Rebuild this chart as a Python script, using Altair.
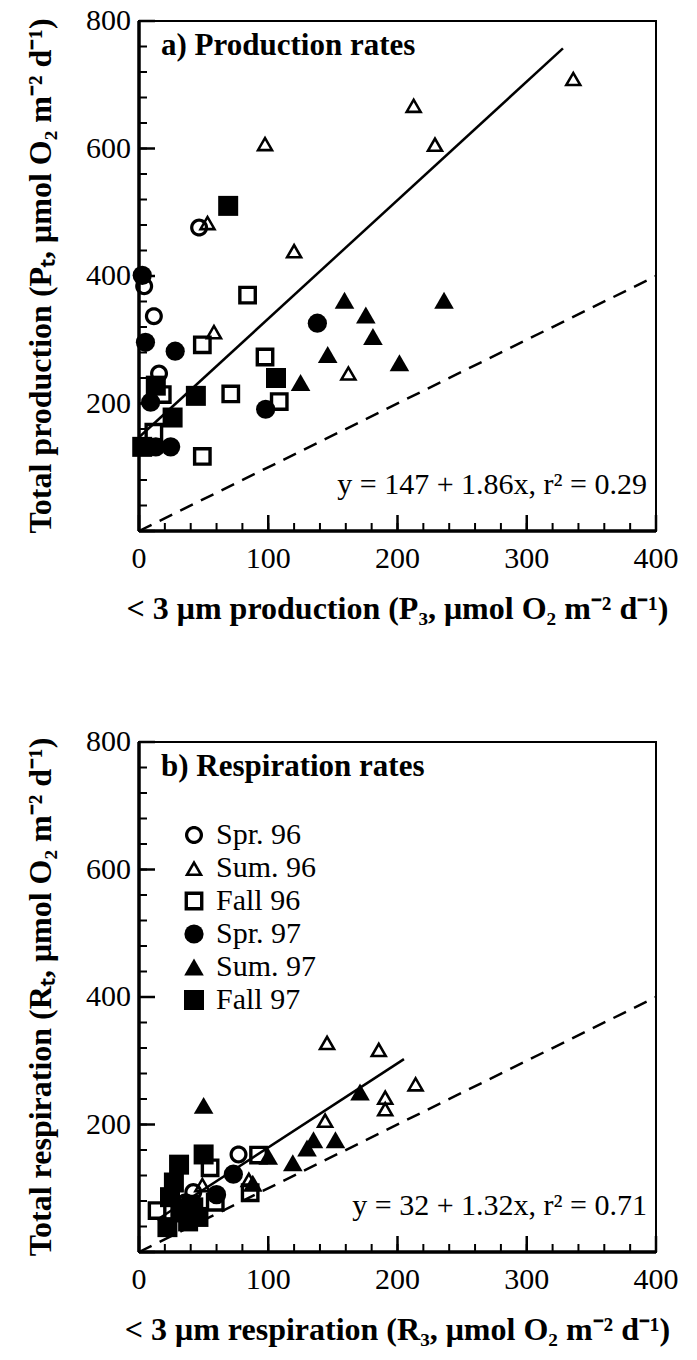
import math
import altair as alt
import pandas as pd

SERIES = ["Spr. 96", "Sum. 96", "Fall 96", "Spr. 97", "Sum. 97", "Fall 97"]
SIZES = [324, 400, 324, 324, 400, 324]

# ---- panel a: production (x = P3, y = PT) ----
a_spr96_x = [46.5, 4, 11.5, 15.5]
a_spr96_y = [476, 384, 337, 247]
a_sum96_x = [53, 97.5, 120, 336, 212.5, 229, 58, 162]
a_sum96_y = [484, 608, 440, 710, 668, 607, 313, 248]
a_fall96_x = [84, 49, 18, 71, 97.5, 108.5, 11.5, 49]
a_fall96_y = [370, 292, 214, 215, 273, 203, 155, 117]
a_spr97_x = [2.5, 5, 28, 9, 98, 138, 13, 24.5]
a_spr97_y = [401, 296, 282, 202, 191, 326, 132, 132]
a_sum97_x = [125, 159, 175.5, 181, 146, 236, 201.5]
a_sum97_y = [233, 362, 339, 305, 277, 362, 264]
a_fall97_x = [69, 13, 44, 106, 26, 2.5]
a_fall97_y = [510, 228, 212, 240, 178, 132]
a_fit_intercept, a_fit_slope = 147, 1.86
a_fit_x = [0, 328]

# ---- panel b: respiration (x = R3, y = RT) ----
b_spr96_x = [77, 42, 36]
b_spr96_y = [153, 94, 78]
b_sum96_x = [145.5, 185.5, 214, 190.5, 190.5, 144, 85, 49]
b_sum96_y = [329, 318, 264, 243, 225, 207, 114, 106]
b_fall96_x = [92.5, 86, 55, 59, 14, 40]
b_fall96_y = [152, 93, 132, 78, 65, 75]
b_spr97_x = [73, 60, 35]
b_spr97_y = [122, 90, 70]
b_sum97_x = [50, 171, 135, 130, 152, 119, 100, 88]
b_sum97_y = [230, 251, 176, 163, 176, 140, 150, 108]
b_fall97_x = [50, 31, 27, 24, 32, 46, 22, 38, 42]
b_fall97_y = [153, 137, 109, 86, 62, 55, 39, 48, 70]
b_fit_intercept, b_fit_slope = 32, 1.32
b_fit_x = [14, 205]

one_to_one = [0, 400]
X_MAX, Y_MAX = 400, 800

x_minor = list(range(0, 401, 20))
x_major = [0, 100, 200, 300, 400]
y_minor = list(range(0, 801, 40))
y_major = [0, 200, 400, 600, 800]
y_labels = [200, 400, 600, 800]

W, H = 517, 510
FONT = "Liberation Serif"


# ---- marker outlines (open symbols drawn as rings so legend & marks match) ----
def _poly(pts):
    return "M" + "L".join(f"{x:.3f},{y:.3f}" for x, y in pts) + "Z"


def ring(outer, inner):
    return _poly(outer) + _poly(list(reversed(inner)))


_n = 40
_circ = [(math.cos(2 * math.pi * i / _n), math.sin(2 * math.pi * i / _n)) for i in range(_n)]
OPEN_CIRCLE = ring(_circ, [(0.64 * x, 0.64 * y) for x, y in _circ])
_h = math.sqrt(3) / 2
_tri = [(0, -_h), (1, _h), (-1, _h)]
_cy = _h / 3
_k = 0.52
OPEN_TRI = ring(_tri, [(_k * x, _cy + _k * (y - _cy)) for x, y in _tri])
_sq = [(-1, -1), (1, -1), (1, 1), (-1, 1)]
OPEN_SQ = ring(_sq, [(0.64 * x, 0.64 * y) for x, y in _sq])
SHAPES = [OPEN_CIRCLE, OPEN_TRI, OPEN_SQ, "circle", "triangle-up", "square"]


def points_df(groups):
    rows = []
    for name, xs, ys in groups:
        for x, y in zip(xs, ys):
            rows.append({"x": x, "y": y, "series": name})
    return pd.DataFrame(rows)


def panel(df, fit_x, icpt, slope, label, eq, xtitle, ytitle, with_legend):
    xs = alt.Scale(domain=[0, X_MAX], nice=False, zero=False)
    ys = alt.Scale(domain=[0, Y_MAX], nice=False, zero=False)

    def X(f):
        return alt.X(f, scale=xs, axis=None)

    def Y(f):
        return alt.Y(f, scale=ys, axis=None)

    fit_df = pd.DataFrame({"x": fit_x, "y": [icpt + slope * v for v in fit_x]})
    one_df = pd.DataFrame({"x": one_to_one, "y": one_to_one})

    # inward ticks
    xminor = alt.Chart(pd.DataFrame({"v": x_minor})).mark_rule(color="black", strokeWidth=2).encode(
        x=X("v:Q"), y=alt.value(H), y2=alt.value(H - 8))
    xmajor = alt.Chart(pd.DataFrame({"v": x_major})).mark_rule(color="black", strokeWidth=2.5).encode(
        x=X("v:Q"), y=alt.value(H), y2=alt.value(H - 16))
    yminor = alt.Chart(pd.DataFrame({"v": y_minor})).mark_rule(color="black", strokeWidth=2).encode(
        y=Y("v:Q"), x=alt.value(0), x2=alt.value(8))
    ymajor = alt.Chart(pd.DataFrame({"v": y_major})).mark_rule(color="black", strokeWidth=2.5).encode(
        y=Y("v:Q"), x=alt.value(0), x2=alt.value(16))
    # heavier left / bottom axis lines
    left_line = alt.Chart(one_df).mark_rule(color="black", strokeWidth=3).encode(
        x=alt.value(0), y=alt.value(0), y2=alt.value(H))
    bottom_line = alt.Chart(one_df).mark_rule(color="black", strokeWidth=3).encode(
        y=alt.value(H), x=alt.value(0), x2=alt.value(W))

    # tick labels and axis titles as text
    xlab = alt.Chart(pd.DataFrame({"v": x_major, "t": [str(v) for v in x_major]})).mark_text(
        font=FONT, fontSize=30, color="black", align="center", baseline="middle").encode(
        x=X("v:Q"), y=alt.value(H + 28), text="t:N")
    ylab = alt.Chart(pd.DataFrame({"v": y_labels, "t": [str(v) for v in y_labels]})).mark_text(
        font=FONT, fontSize=30, color="black", align="right", baseline="middle").encode(
        y=Y("v:Q"), x=alt.value(-8), text="t:N")
    xttl = alt.Chart(pd.DataFrame({"t": [xtitle]})).mark_text(
        font=FONT, fontSize=32, fontWeight="bold", color="black", align="center",
        baseline="middle").encode(x=alt.value(W / 2), y=alt.value(H + 78), text="t:N")
    yttl = alt.Chart(pd.DataFrame({"t": [ytitle]})).mark_text(
        font=FONT, fontSize=32, fontWeight="bold", color="black", align="center",
        baseline="middle", angle=270).encode(x=alt.value(-98), y=alt.value(H / 2), text="t:N")

    dashed = alt.Chart(one_df).mark_line(color="black", strokeWidth=2.5, strokeDash=[14, 9]).encode(
        x=X("x:Q"), y=Y("y:Q"))
    fit = alt.Chart(fit_df).mark_line(color="black", strokeWidth=2.5).encode(
        x=X("x:Q"), y=Y("y:Q"))

    if with_legend:
        leg = alt.Legend(orient="none", legendX=40, legendY=78, title=None,
                         labelFont=FONT, labelFontSize=30, labelColor="black",
                         symbolFillColor="black", symbolStrokeWidth=0,
                         rowPadding=3, labelOffset=7, symbolOpacity=1)
    else:
        leg = None
    sh = alt.Shape("series:N", scale=alt.Scale(domain=SERIES, range=SHAPES), legend=leg)
    sz = alt.Size("series:N", scale=alt.Scale(domain=SERIES, range=SIZES), legend=leg)

    pts = alt.Chart(df).mark_point(filled=True, color="black", opacity=1).encode(
        x=X("x:Q"), y=Y("y:Q"), shape=sh, size=sz,
    )

    ttl = alt.Chart(pd.DataFrame({"t": [label]})).mark_text(
        font=FONT, fontSize=31, fontWeight="bold", align="left", baseline="middle", color="black"
    ).encode(x=alt.value(22), y=alt.value(25), text="t:N")
    eqt = alt.Chart(pd.DataFrame({"t": [eq]})).mark_text(
        font=FONT, fontSize=30, align="right", baseline="middle", color="black"
    ).encode(x=alt.value(508), y=alt.value(H - 46), text="t:N")

    return alt.layer(dashed, fit, xminor, xmajor, yminor, ymajor, left_line, bottom_line,
                     pts, ttl, eqt, xlab, ylab, xttl, yttl).properties(width=W, height=H)


df_a = points_df([
    (SERIES[0], a_spr96_x, a_spr96_y), (SERIES[1], a_sum96_x, a_sum96_y),
    (SERIES[2], a_fall96_x, a_fall96_y), (SERIES[3], a_spr97_x, a_spr97_y),
    (SERIES[4], a_sum97_x, a_sum97_y), (SERIES[5], a_fall97_x, a_fall97_y),
])
df_b = points_df([
    (SERIES[0], b_spr96_x, b_spr96_y), (SERIES[1], b_sum96_x, b_sum96_y),
    (SERIES[2], b_fall96_x, b_fall96_y), (SERIES[3], b_spr97_x, b_spr97_y),
    (SERIES[4], b_sum97_x, b_sum97_y), (SERIES[5], b_fall97_x, b_fall97_y),
])

top = panel(df_a, a_fit_x, a_fit_intercept, a_fit_slope, "a) Production rates",
            "y = 147 + 1.86x, r² = 0.29",
            "< 3 μm production (P₃, μmol O₂ m⁻² d⁻¹)",
            "Total production (Pₜ, μmol O₂ m⁻² d⁻¹)", False)
bottom = panel(df_b, b_fit_x, b_fit_intercept, b_fit_slope, "b) Respiration rates",
               "y = 32 + 1.32x, r² = 0.71",
               "< 3 μm respiration (R₃, μmol O₂ m⁻² d⁻¹)",
               "Total respiration (Rₜ, μmol O₂ m⁻² d⁻¹)", True)

chart = alt.vconcat(top, bottom, spacing=100).resolve_scale(
    shape="independent", size="independent"
).resolve_legend(shape="independent", size="independent").properties(
    padding={"left": 23, "top": 5, "right": 5, "bottom": 5},
    background="white",
).configure_view(stroke="black", strokeWidth=2)

chart.save("out.html", embed_options={"renderer": "svg", "actions": False})
